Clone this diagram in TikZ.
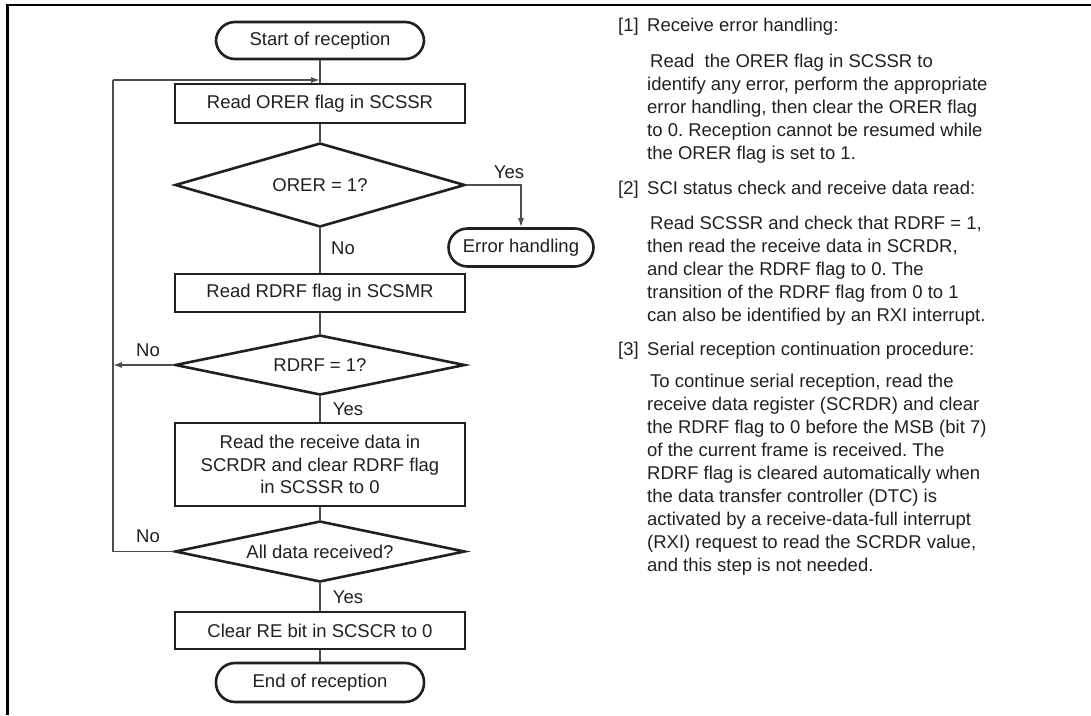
\documentclass[tikz,border=0pt]{standalone}
\usepackage{fontspec}
\setmainfont{Liberation Sans}
\usetikzlibrary{shapes.geometric,arrows.meta}
\definecolor{ink}{HTML}{231F20}
\definecolor{linegray}{HTML}{4D4D4D}
\begin{document}
\begin{tikzpicture}[x=1pt,y=-1pt,
  every node/.style={font=\fontsize{18.5}{23}\selectfont\frenchspacing, text=ink},
  proc/.style={draw=ink, line width=2.6pt, fill=white, minimum width=290pt, inner sep=0pt, align=center},
  term/.style={draw=ink, line width=2.6pt, fill=white, rounded corners=19pt, inner sep=0pt},
  decide/.style={diamond, draw=ink, line width=2.6pt, fill=white, minimum width=290pt, inner sep=0pt},
  wire/.style={draw=linegray, line width=1.4pt},
  arr/.style={wire, -{Latex[length=9pt,width=6pt]}},
  lbl/.style={inner sep=0pt},
]
\useasboundingbox (0,0) rectangle (1091,715);
% frame
\draw[line width=2.6pt, black, line join=miter] (7.5,715) -- (7.5,5) -- (1091,5);

% flowchart nodes
\node[term, minimum width=208pt, minimum height=37pt] (start) at (320,40.5) {Start of reception};
\node[proc, minimum height=39pt] (orer) at (320,103.5) {Read ORER flag in SCSSR};
\node[decide, aspect=3.45, minimum height=84pt] (d1) at (320,185) {ORER = 1?};
\node[term, minimum width=145pt, minimum height=38pt] (err) at (521,247.5) {Error handling};
\node[proc, minimum height=38pt] (rdrf) at (320,293) {Read RDRF flag in SCSMR};
\node[decide, aspect=4.8, minimum height=60pt] (d2) at (320,365) {RDRF = 1?};
\node[proc, minimum height=83pt, font=\fontsize{18.5}{22.5}\selectfont] (data) at (320,464.5) {Read the receive data in\\SCRDR and clear RDRF flag\\in SCSSR to 0};
\node[decide, aspect=4.75, minimum height=61pt] (d3) at (320,551.5) {All data received?};
\node[proc, minimum height=37pt] (clr) at (320,630.5) {Clear RE bit in SCSCR to 0};
\node[term, minimum width=208pt, minimum height=39pt] (end) at (320,682.5) {End of reception};

\coordinate (lt) at (113,80);

% connectors
\draw[wire] (start.south) -- (orer.north);
\draw[wire] (orer.south) -- (d1.north);
\draw[arr] (d1.east) -| (err.north);
\draw[wire] (d1.south) -- (rdrf.north);
\draw[wire] (rdrf.south) -- (d2.north);
\draw[arr] (d2.west) -- (d2.west -| lt);
\draw[wire] (d2.south) -- (data.north);
\draw[wire] (data.south) -- (d3.north);
\draw[wire] (d3.west) -| (lt);
\draw[arr] (lt) -- (lt -| start.south);
\draw[wire] (d3.south) -- (clr.north);
\draw[wire] (clr.south) -- (end.north);

% labels
\node[lbl] (yes1) at (509,172) {Yes};
\node[lbl, anchor=west] (no1) at (331,248) {No};
\node[lbl] (no2) at (148,350) {No};
\node[lbl] (yes2) at (348,409) {Yes};
\node[lbl] (no3) at (148,536) {No};
\node[lbl] (yes3) at (348,597) {Yes};

% notes
\node[lbl, anchor=base west] (n1) at (618,31) {[1]};
\node[lbl, anchor=base west] (h1) at (647,31) {Receive error handling:};
\node[lbl, anchor=base west] (p1) at (647,67) {\parbox[t]{420pt}{\raggedright\hspace*{3pt}Read\ \ the ORER flag in SCSSR to\\
identify any error, perform the appropriate\\
error handling, then clear the ORER flag\\
to 0. Reception cannot be resumed while\\
the ORER flag is set to 1.}};

\node[lbl, anchor=base west] (n2) at (618,194) {[2]};
\node[lbl, anchor=base west] (h2) at (647,194) {SCI status check and receive data read:};
\node[lbl, anchor=base west] (p2) at (647,229) {\parbox[t]{420pt}{\raggedright\hspace*{3pt}Read SCSSR and check that RDRF = 1,\\
then read the receive data in SCRDR,\\
and clear the RDRF flag to 0. The\\
transition of the RDRF flag from 0 to 1\\
can also be identified by an RXI interrupt.}};

\node[lbl, anchor=base west] (n3) at (618,355) {[3]};
\node[lbl, anchor=base west] (h3) at (647,355) {Serial reception continuation procedure:};
\node[lbl, anchor=base west] (p3) at (647,387) {\parbox[t]{420pt}{\raggedright\hspace*{3pt}To continue serial reception, read the\\
receive data register (SCRDR) and clear\\
the RDRF flag to 0 before the MSB (bit 7)\\
of the current frame is received. The\\
RDRF flag is cleared automatically when\\
the data transfer controller (DTC) is\\
activated by a receive-data-full interrupt\\
(RXI) request to read the SCRDR value,\\
and this step is not needed.}};
\end{tikzpicture}
\end{document}
